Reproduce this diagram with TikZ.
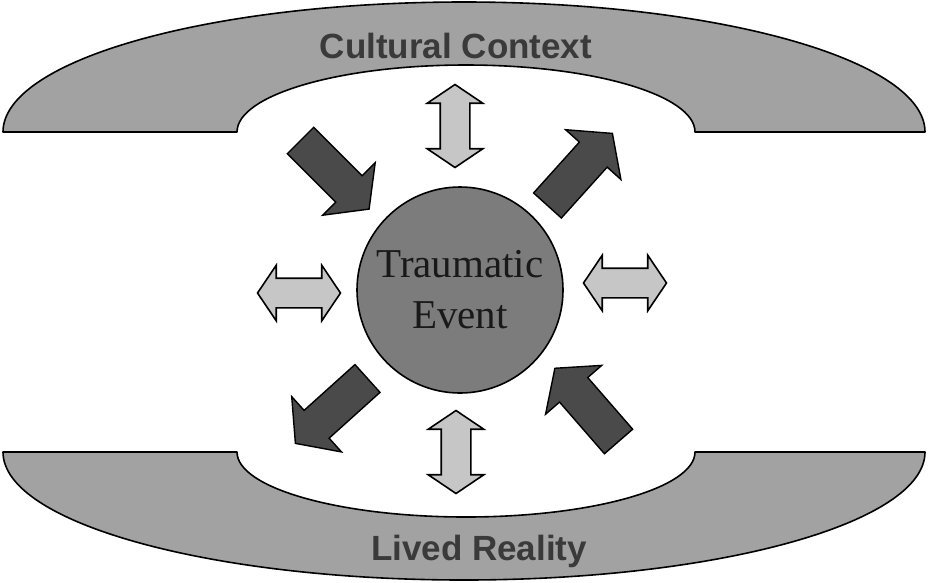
\documentclass[tikz,border=0pt]{standalone}
\usepackage{fontspec}
\setmainfont{Liberation Serif}
\setsansfont{Liberation Sans}
\usepackage{tikz}
\usetikzlibrary{shapes.arrows,positioning}
\definecolor{bandgray}{HTML}{A2A2A2}
\definecolor{eventgray}{HTML}{7C7C7C}
\definecolor{darkarrow}{HTML}{4A4A4A}
\definecolor{lightarrow}{HTML}{C6C6C6}
\definecolor{labelgray}{HTML}{3A3A3A}
\tikzset{band/.style={draw=black,line width=1.6pt,fill=bandgray,line join=round},
  bandlabel/.style={anchor=base,text=labelgray,font=\sffamily\bfseries\fontsize{35}{40}\selectfont},
  flow/.style={single arrow,draw=black,line width=1.4pt,fill=darkarrow,inner xsep=0pt,inner ysep=18pt,
    minimum height=97pt,single arrow head extend=18.5pt,
    single arrow tip angle=105,anchor=tail},
  link/.style={double arrow,draw=black,line width=1.6pt,fill=lightarrow,inner xsep=0pt,inner ysep=14pt,
    minimum height=83pt,double arrow head extend=13pt,
    double arrow tip angle=112}}

\begin{document}
\begin{tikzpicture}[x=1pt,y=-1pt]
\useasboundingbox (0,0) rectangle (928,582);
% the two bands
\draw[band] (3,132) arc[start angle=180,end angle=360,x radius=461,y radius=130]
  -- (695,132) arc[start angle=0,end angle=-180,x radius=229,y radius=67] -- cycle;
\draw[band] (3,452) arc[start angle=180,end angle=0,x radius=461,y radius=128]
  -- (695,452) arc[start angle=0,end angle=180,x radius=229,y radius=65] -- cycle;
\node[bandlabel] (culture) at (456,58) {Cultural Context};
\node[bandlabel] (lived) at (479,560) {Lived Reality};
% the event
\node[circle,draw=black,line width=1.6pt,fill=eventgray,minimum size=206pt,inner sep=0pt,
  align=center,text=black!90,font=\fontsize{41}{51}\selectfont] (event) at (460,290) {Traumatic\\Event};
% dark arrows in and out
\node[flow,rotate=-45] (inTL) at (300,140) {};
\node[flow,rotate=48] (outTR) at (547,206) {};
\node[flow,rotate=-138] (outBL) at (368,378) {};
\node[flow,rotate=131] (inBR) at (619,442) {};
% light two-way arrows
\node[link,rotate=90] (up) at (455,126) {};
\node[link,rotate=90] (down) at (456,452) {};
\node[link] (left) at (299,293) {};
\node[link] (right) at (625,283) {};
\end{tikzpicture}
\end{document}
